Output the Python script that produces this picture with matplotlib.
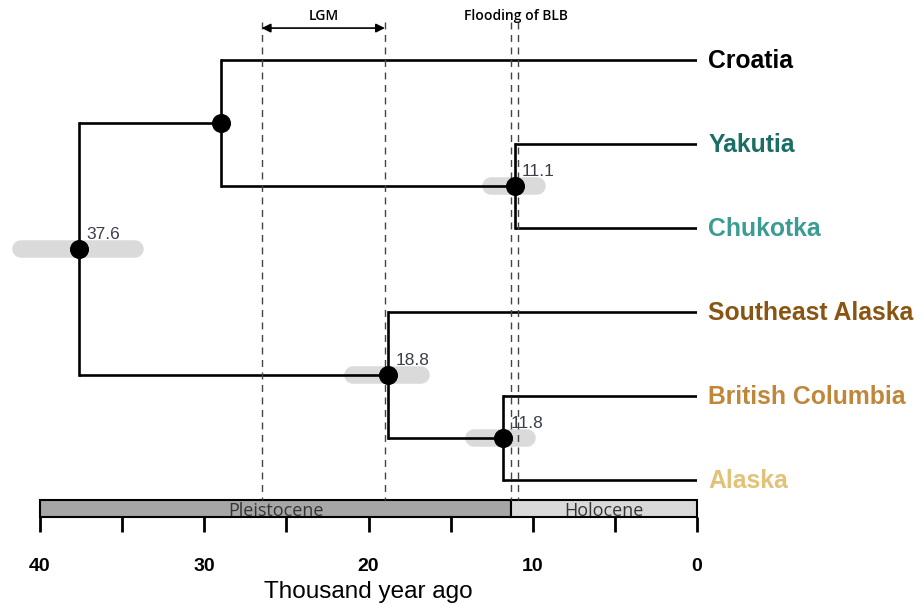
import numpy as np
import matplotlib
matplotlib.use("Agg")
import matplotlib.pyplot as plt

plt.rcParams["font.family"] = ["Liberation Sans", "DejaVu Sans"]

# tips (top to bottom) and their label colours
tip_names = ["Croatia", "Yakutia", "Chukotka", "Southeast Alaska", "British Columbia", "Alaska"]
tip_colors = ["#000000", "#1b6e66", "#3a9c92", "#8a5412", "#c0873a", "#e2c277"]

# internal nodes: age (thousand years ago), children, 95% HPD bar extents
node_names = ["root", "n1", "n2", "n3", "n4"]
node_ages = [37.6, 29.0, 11.1, 18.8, 11.8]
node_children = [("n1", "n3"), ("Croatia", "n2"), ("Yakutia", "Chukotka"),
                 ("Southeast Alaska", "n4"), ("British Columbia", "Alaska")]
hpd_old = [41.7, np.nan, 13.1, 21.5, 14.1]
hpd_young = [33.7, np.nan, 9.2, 16.3, 9.8]
show_label = [True, False, True, True, True]

# events
lgm = [26.5, 19.0]
blb = [11.3, 10.9]

# geological periods
periods = ["Pleistocene", "Holocene"]
period_start = [40, 11.3]
period_end = [11.3, 0]
period_colors = ["#a6a6a6", "#d9d9d9"]

major_ticks = [40, 30, 20, 10, 0]
minor_ticks = [35, 25, 15, 5]

fig = plt.figure(figsize=(9.24, 6.06), dpi=100)
ax = fig.add_axes([40 / 924, 89 / 606, 657 / 924, 517 / 606])
ax.set_xlim(40, 0)
ax.set_ylim(5.4405, -0.7143)
for s in ax.spines.values():
    s.set_visible(False)
ax.set_yticks([])

# layout: y of tips is row index, internal node y is mid of children
pos = {}
for i, t in enumerate(tip_names):
    pos[t] = (0.0, float(i))


def node_pos(name):
    if name in pos:
        return pos[name]
    k = node_names.index(name)
    ys = [node_pos(c)[1] for c in node_children[k]]
    pos[name] = (node_ages[k], (min(ys) + max(ys)) / 2)
    return pos[name]


for n in node_names:
    node_pos(n)

# HPD bars (rounded)
cap = 8.75 / (657 / 40)
for k, n in enumerate(node_names):
    if np.isnan(hpd_old[k]):
        continue
    y = pos[n][1]
    ax.plot([hpd_old[k] - cap, hpd_young[k] + cap], [y, y], color="#dadada",
            lw=12.6, solid_capstyle="round", zorder=1, clip_on=False)

# branches
for k, n in enumerate(node_names):
    x, y = pos[n]
    ys = [pos[c][1] for c in node_children[k]]
    ax.plot([x, x], [min(ys), max(ys)], color="black", lw=1.9, zorder=2)
    for c in node_children[k]:
        cx, cy = pos[c]
        ax.plot([x, cx], [cy, cy], color="black", lw=1.9, zorder=2,
                solid_capstyle="butt")

# event lines
for xv in lgm + blb:
    ax.plot([xv, xv], [-0.45, 5.238], color="#444444", lw=1.0,
            ls=(0, (5, 4)), zorder=3)

ax.annotate("", xy=(lgm[1], -0.38), xytext=(lgm[0], -0.38),
            arrowprops=dict(arrowstyle="<|-|>", color="black", lw=1.2,
                            mutation_scale=13, shrinkA=0, shrinkB=0))
ax.text(np.mean(lgm), -0.52, "LGM", ha="center", va="center", fontsize=10,
        family=["Open Sans", "DejaVu Sans"], fontweight="semibold")
ax.text(np.mean(blb) - 0.1, -0.52, "Flooding of BLB", ha="center", va="center",
        fontsize=10, family=["Open Sans", "DejaVu Sans"], fontweight="semibold")

# node dots and labels
for k, n in enumerate(node_names):
    x, y = pos[n]
    ax.plot(x, y, "o", color="black", ms=12.7, zorder=4)
    if show_label[k]:
        ax.annotate(f"{node_ages[k]:.1f}", (x, y), xytext=(5, 7),
                    textcoords="offset points", ha="left", va="baseline",
                    fontsize=12.5, color="#3b3f4a", zorder=5)

# tip labels
for t, col in zip(tip_names, tip_colors):
    x, y = pos[t]
    ax.annotate(t, (x, y), xytext=(8, -6), textcoords="offset points",
                ha="left", va="baseline", fontsize=17.8, fontweight="bold",
                color=col, annotation_clip=False)

# period bar
for p, a, b, col in zip(periods, period_start, period_end, period_colors):
    ax.add_patch(plt.Rectangle((a, 5.238), b - a, 0.2025, facecolor=col,
                               edgecolor="black", lw=1.5, zorder=2,
                               clip_on=False))
    ax.text((a + b) / 2, 5.43, p, ha="center", va="baseline", fontsize=13,
            family=["Open Sans", "DejaVu Sans"], color="#333333", zorder=3,
            clip_on=True)

# time axis
ax.set_xticks(major_ticks)
ax.set_xticks(minor_ticks, minor=True)
ax.tick_params(axis="x", which="both", direction="out", length=10.8, width=2,
               pad=19)
ax.tick_params(axis="x", which="major", labelsize=14)
for lab in ax.get_xticklabels():
    lab.set_fontweight("bold")
ax.set_xlabel("Thousand year ago", fontsize=17.5, labelpad=4)

fig.savefig("out.png", dpi=100)
